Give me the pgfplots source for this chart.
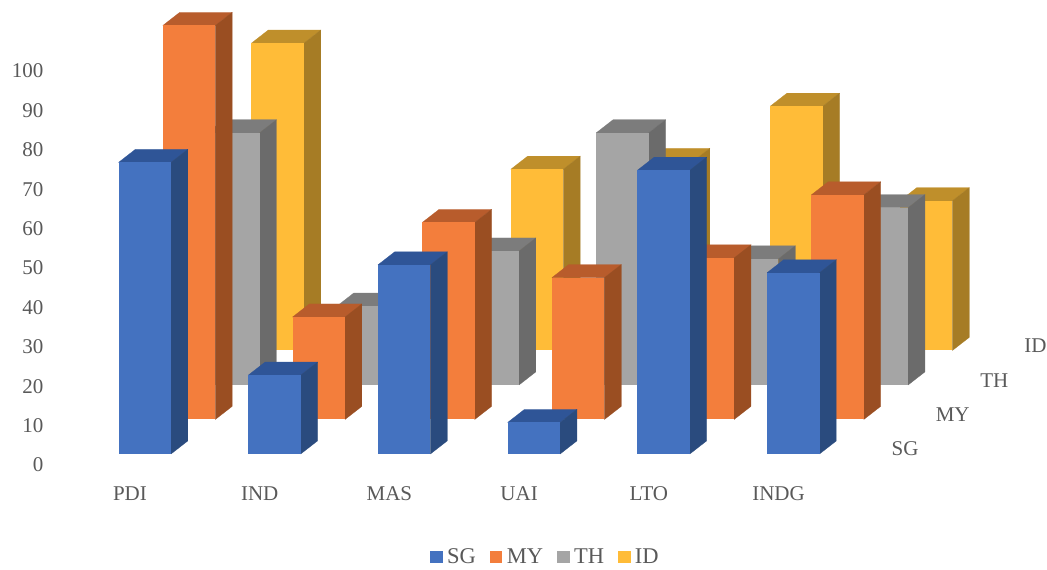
\documentclass[border=0pt]{standalone}
\usepackage{pgfplots}
\usepackage{fontspec}
\pgfplotsset{compat=1.18}
\setmainfont{Liberation Serif}

\definecolor{labelgrey}{HTML}{595959}
% front, side and top shades of each series
\definecolor{SGfront}{HTML}{4472C0}\definecolor{SGside}{HTML}{2A4B7E}\definecolor{SGtop}{HTML}{2F5597}
\definecolor{MYfront}{HTML}{F37E3C}\definecolor{MYside}{HTML}{9A4E22}\definecolor{MYtop}{HTML}{B85C2C}
\definecolor{THfront}{HTML}{A5A5A5}\definecolor{THside}{HTML}{6B6B6B}\definecolor{THtop}{HTML}{7C7C7C}
\definecolor{IDfront}{HTML}{FFBC38}\definecolor{IDside}{HTML}{A67C25}\definecolor{IDtop}{HTML}{BF8F2B}

% \column{category}{row}{value}{series}: one cuboid made of three faces
\newcommand{\column}[4]{%
  \pgfmathsetmacro\xa{#1}\pgfmathsetmacro\xb{#1+0.405}%
  \pgfmathsetmacro\ya{#2}\pgfmathsetmacro\yb{#2+0.38}%
  \addplot3[fill=#4top,draw=#4top,line width=0.2pt,forget plot] coordinates {(\xa,\ya,#3) (\xb,\ya,#3) (\xb,\yb,#3) (\xa,\yb,#3) (\xa,\ya,#3)};
  \addplot3[fill=#4side,draw=#4side,line width=0.2pt,forget plot] coordinates {(\xb,\ya,0) (\xb,\yb,0) (\xb,\yb,#3) (\xb,\ya,#3) (\xb,\ya,0)};
  \addplot3[fill=#4front,draw=none,forget plot] coordinates {(\xa,\ya,0) (\xb,\ya,0) (\xb,\ya,#3) (\xa,\ya,#3)};
}

\begin{document}
\begin{tikzpicture}[x=1pt,y=1pt]
\path[use as bounding box] (0,0) rectangle (1047,570);

% oblique projection: category, country row, value
\begin{axis}[
  at={(118.5pt,116pt)}, anchor=origin,
  x={(129.7pt,0pt)}, y={(44.3pt,34.5pt)}, z={(0pt,3.94pt)},
  xmin=0, xmax=6, ymin=0, ymax=4, zmin=0, zmax=110,
  hide axis, clip=false,
  nodes={font=\fontsize{21}{21}\selectfont, text=labelgrey},
]
% back row first so that nearer columns cover it
\column{0}{3}{78}{ID}\column{1}{3}{14}{ID}\column{2}{3}{46}{ID}\column{3}{3}{48}{ID}\column{4}{3}{62}{ID}\column{5}{3}{38}{ID}
\column{0}{2}{64}{TH}\column{1}{2}{20}{TH}\column{2}{2}{34}{TH}\column{3}{2}{64}{TH}\column{4}{2}{32}{TH}\column{5}{2}{45}{TH}
\column{0}{1}{100}{MY}\column{1}{1}{26}{MY}\column{2}{1}{50}{MY}\column{3}{1}{36}{MY}\column{4}{1}{41}{MY}\column{5}{1}{57}{MY}
\column{0}{0}{74}{SG}\column{1}{0}{20}{SG}\column{2}{0}{48}{SG}\column{3}{0}{8}{SG}\column{4}{0}{72}{SG}\column{5}{0}{46}{SG}
% depth axis labels
\node at (axis cs:6.065,0,1.25) {SG};
\node at (axis cs:6.09,1,1.25) {MY};
\node at (axis cs:6.07,2,1.0) {TH};
\node at (axis cs:6.045,3,1.25) {ID};
\end{axis}

% value scale, category names and legend
\begin{axis}[
  at={(0pt,0pt)}, anchor=south west, scale only axis,
  width=1047pt, height=570pt,
  xmin=-1.002, xmax=7.07, ymin=-26.65, ymax=118.02,
  axis line style={draw=none}, major tick length=0pt, clip=false,
  xtick={0,1,2,3,4,5}, xticklabels={PDI,IND,MAS,UAI,LTO,INDG},
  ytick={0,10,...,100},
  /pgf/number format/assume math mode=true,
  x tick label style={anchor=center, yshift=76pt, font=\fontsize{21}{21}\selectfont, text=labelgrey},
  y tick label style={anchor=east, xshift=47pt, font=\fontsize{21}{21}\selectfont, text=labelgrey},
  legend columns=4,
  legend cell align=left,
  legend style={draw=none, fill=none, at={(545.5pt,13pt)}, anchor=center,
    font=\fontsize{22.5}{22.5}\selectfont, text=labelgrey,
    /tikz/every even column/.append style={column sep=12pt}},
  legend image code/.code={\fill[#1] (0pt,-5.5pt) rectangle (11.5pt,6pt); \path (14.5pt,0pt);},
]
\addlegendimage{SGfront}\addlegendentry{SG}
\addlegendimage{MYfront}\addlegendentry{MY}
\addlegendimage{THfront}\addlegendentry{TH}
\addlegendimage{IDfront}\addlegendentry{ID}
\end{axis}
\end{tikzpicture}
\end{document}
